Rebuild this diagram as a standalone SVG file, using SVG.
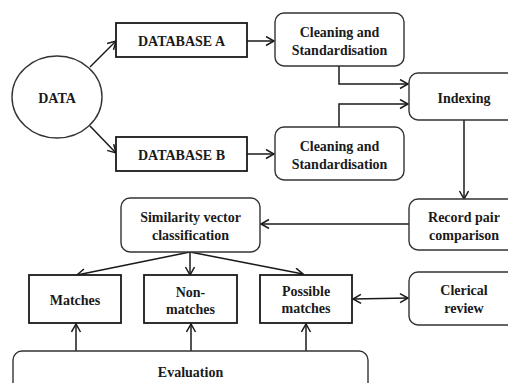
<svg xmlns="http://www.w3.org/2000/svg" width="508" height="383" viewBox="0 0 508 383" font-family="Liberation Serif, serif" font-weight="bold">
<style>
text{font-family:'Liberation Serif',serif;font-weight:bold;font-size:14px;fill:#1a1a1a;text-anchor:middle;dominant-baseline:central}
.box{fill:#fff;stroke:#1a1a1a;stroke-width:1.8}
.rbox{fill:#fff;stroke:#333;stroke-width:1.4}
.c{fill:none;stroke:#1a1a1a;stroke-width:1.5}
</style>
<defs>
<marker id="a" markerUnits="userSpaceOnUse" markerWidth="12" markerHeight="12" refX="9" refY="5" orient="auto-start-reverse">
<path d="M1,0.5 L9,5 L1,9.5" fill="none" stroke="#1a1a1a" stroke-width="1.5"/>
</marker>
</defs>
<rect width="508" height="383" fill="#fff"/>
<g id="connectors">
<line class="c" x1="90" y1="67" x2="116" y2="41" marker-end="url(#a)"/>
<line class="c" x1="90" y1="126" x2="116" y2="153" marker-end="url(#a)"/>
<line class="c" x1="247" y1="41" x2="274" y2="41" marker-end="url(#a)"/>
<line class="c" x1="247" y1="154" x2="274" y2="154" marker-end="url(#a)"/>
<polyline class="c" points="339,66 339,84 408,84" marker-end="url(#a)"/>
<polyline class="c" points="339,127 339,104 408,104" marker-end="url(#a)"/>
<line class="c" x1="464" y1="120" x2="464" y2="199" marker-end="url(#a)"/>
<line class="c" x1="409" y1="224" x2="261" y2="224" marker-end="url(#a)"/>
<line class="c" x1="190" y1="252" x2="77" y2="275" marker-end="url(#a)"/>
<line class="c" x1="190" y1="252" x2="190" y2="275" marker-end="url(#a)"/>
<line class="c" x1="190" y1="252" x2="303" y2="274" marker-end="url(#a)"/>
<line class="c" x1="353" y1="299" x2="408" y2="298" marker-start="url(#a)" marker-end="url(#a)"/>
<line class="c" x1="76" y1="351" x2="76" y2="324" marker-end="url(#a)"/>
<line class="c" x1="191" y1="351" x2="191" y2="324" marker-end="url(#a)"/>
<line class="c" x1="306" y1="351" x2="306" y2="324" marker-end="url(#a)"/>
</g>
<g id="data">
<ellipse cx="57" cy="97" rx="45" ry="41" fill="#fff" stroke="#333" stroke-width="1.4"/>
<text x="57" y="98">DATA</text>
</g>
<g id="dbA">
<rect class="box" x="116" y="23" width="131" height="34"/>
<text x="181.5" y="41">DATABASE A</text>
</g>
<g id="dbB">
<rect class="box" x="116" y="137" width="131" height="34"/>
<text x="181.5" y="155">DATABASE B</text>
</g>
<g id="cleanA">
<rect class="rbox" x="275" y="13" width="129" height="53" rx="9"/>
<text x="339.5" y="32">Cleaning and</text>
<text x="339.5" y="50">Standardisation</text>
</g>
<g id="cleanB">
<rect class="rbox" x="275" y="127" width="129" height="53" rx="9"/>
<text x="339.5" y="146">Cleaning and</text>
<text x="339.5" y="164">Standardisation</text>
</g>
<g id="indexing">
<rect class="rbox" x="409" y="73" width="110" height="47" rx="9"/>
<text x="464" y="98">Indexing</text>
</g>
<g id="recordpair">
<rect class="rbox" x="409" y="199" width="110" height="51" rx="9"/>
<text x="464" y="217">Record pair</text>
<text x="464" y="235">comparison</text>
</g>
<g id="similarity">
<rect class="rbox" x="121" y="198" width="139" height="54" rx="9"/>
<text x="190.5" y="217">Similarity vector</text>
<text x="190.5" y="235">classification</text>
</g>
<g id="matches">
<rect class="box" x="29" y="275" width="92" height="48"/>
<text x="75" y="300">Matches</text>
</g>
<g id="nonmatches">
<rect class="box" x="144" y="275" width="93" height="48"/>
<text x="190.5" y="292">Non-</text>
<text x="190.5" y="309">matches</text>
</g>
<g id="possible">
<rect class="box" x="260" y="275" width="92" height="48"/>
<text x="306" y="291">Possible</text>
<text x="306" y="308">matches</text>
</g>
<g id="clerical">
<rect class="rbox" x="409" y="272" width="110" height="53" rx="9"/>
<text x="464" y="290">Clerical</text>
<text x="464" y="308">review</text>
</g>
<g id="evaluation">
<rect class="rbox" x="13" y="351" width="355" height="50" rx="9"/>
<text x="190.5" y="372">Evaluation</text>
</g>
</svg>
